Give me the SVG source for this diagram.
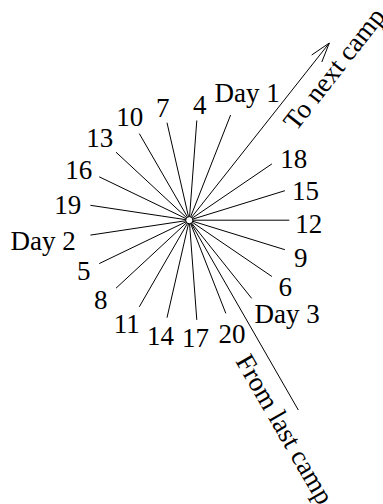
<svg xmlns="http://www.w3.org/2000/svg" width="383" height="504" viewBox="0 0 383 504">
<style>
.ln{stroke:#000;stroke-width:1;fill:none}
.lb{font-family:"Liberation Serif","Times New Roman",serif;font-size:27px;fill:#000}
</style>
<rect width="383" height="504" fill="#fff"/>
<g id="connectors">
<line class="ln" x1="189.3" y1="220.2" x2="289.3" y2="220.2"/>
<line class="ln" x1="189.3" y1="220.2" x2="284.9" y2="249.7"/>
<line class="ln" x1="189.3" y1="220.2" x2="271.9" y2="276.5"/>
<line class="ln" x1="189.3" y1="220.2" x2="251.7" y2="298.4"/>
<line class="ln" x1="189.3" y1="220.2" x2="225.8" y2="313.3"/>
<line class="ln" x1="189.3" y1="220.2" x2="196.8" y2="319.9"/>
<line class="ln" x1="189.3" y1="220.2" x2="167.0" y2="317.7"/>
<line class="ln" x1="189.3" y1="220.2" x2="139.3" y2="306.8"/>
<line class="ln" x1="189.3" y1="220.2" x2="116.0" y2="288.2"/>
<line class="ln" x1="189.3" y1="220.2" x2="99.2" y2="263.6"/>
<line class="ln" x1="189.3" y1="220.2" x2="90.4" y2="235.1"/>
<line class="ln" x1="189.3" y1="220.2" x2="90.4" y2="205.3"/>
<line class="ln" x1="189.3" y1="220.2" x2="99.2" y2="176.8"/>
<line class="ln" x1="189.3" y1="220.2" x2="116.0" y2="152.2"/>
<line class="ln" x1="189.3" y1="220.2" x2="139.3" y2="133.6"/>
<line class="ln" x1="189.3" y1="220.2" x2="167.0" y2="122.7"/>
<line class="ln" x1="189.3" y1="220.2" x2="196.8" y2="120.5"/>
<line class="ln" x1="189.3" y1="220.2" x2="230.6" y2="115.0"/>
<line class="ln" x1="189.3" y1="220.2" x2="271.9" y2="163.9"/>
<line class="ln" x1="189.3" y1="220.2" x2="284.9" y2="190.7"/>
<line class="ln" x1="189.3" y1="220.2" x2="329.3" y2="43"/>
<path class="ln" d="M311.7,55 L329.3,43 L321.8,62"/>
<line class="ln" x1="189.3" y1="220.2" x2="298.3" y2="410"/>
</g>
<g id="hub"><circle cx="189.3" cy="220.2" r="3.6" fill="#fff" stroke="#000" stroke-width="1"/></g>
<g id="labels">
<text class="lb" x="295.3" y="232.7">12</text>
<text class="lb" x="294" y="267.3">9</text>
<text class="lb" x="278.5" y="296">6</text>
<text class="lb" x="254.5" y="322.7">Day 3</text>
<text class="lb" x="218.5" y="343.3">20</text>
<text class="lb" x="182" y="346.5">17</text>
<text class="lb" x="147" y="345">14</text>
<text class="lb" x="113.7" y="333.3">11</text>
<text class="lb" x="94" y="309.3">8</text>
<text class="lb" x="77" y="280">5</text>
<text class="lb" x="10.5" y="249.5">Day 2</text>
<text class="lb" x="54.3" y="214.3">19</text>
<text class="lb" x="65.3" y="179">16</text>
<text class="lb" x="86.3" y="147.3">13</text>
<text class="lb" x="116.3" y="126">10</text>
<text class="lb" x="156" y="117.3">7</text>
<text class="lb" x="193" y="114.3">4</text>
<text class="lb" x="214.5" y="101.5">Day 1</text>
<text class="lb" x="280.3" y="168.3">18</text>
<text class="lb" x="292" y="200">15</text>
<text class="lb" transform="translate(296,132) rotate(-52)">To next camp</text>
<text class="lb" transform="translate(235,361) rotate(60)">From last camp</text>
</g>
</svg>
